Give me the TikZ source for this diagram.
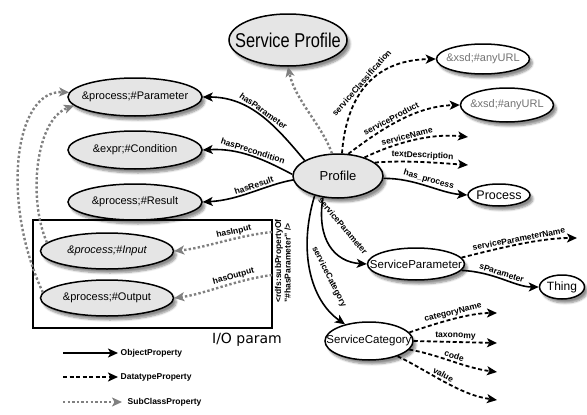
\documentclass[tikz,border=0pt]{standalone}
\usepackage{fontspec}
\setmainfont{Liberation Sans}
\newfontfamily\iofont{DejaVu Sans}
\usetikzlibrary{arrows.meta, shadows.blur, shapes.geometric}

\newcommand{\zbox}[1]{\makebox[0pt]{#1}}

\tikzset{
    tipB/.style={-{Stealth[length=10pt,width=9pt,inset=2.5pt]}},
    objP/.style={draw=black, line width=1.6pt, tipB},
    dataP/.style={draw=black, line width=1.8pt, dash pattern=on 4pt off 2.5pt, tipB},
    subP/.style={draw=black!50, line width=2.4pt, dash pattern=on 2.4pt off 2.2pt, tipB},
    nodeG/.style={ellipse, draw, line width=1.5pt, fill=black!10, inner sep=0pt,
        blur shadow={shadow xshift=3pt, shadow yshift=-4pt, shadow blur steps=6, shadow opacity=45},
        font=\fontsize{11}{13}\selectfont},
    nodeW/.style={nodeG, fill=white},
    elab/.style={font=\fontsize{8.5}{9.5}\selectfont\bfseries, inner sep=1.5pt}
}

\begin{document}
\begin{tikzpicture}[x=1pt, y=-1pt]
    \useasboundingbox (0,0) rectangle (587,415);
    % classes
    \node[nodeG, minimum width=118pt, minimum height=52pt] (sprof) at (288,40)
        {\zbox{\fontsize{20}{22}\selectfont\scalebox{.82}[1]{Service Profile}}};
    \node[nodeG, minimum width=134pt, minimum height=38pt] (param) at (135,97) {\zbox{\&process;\#Parameter}};
    \node[nodeG, minimum width=134pt, minimum height=38pt] (cond) at (135,150) {\zbox{\&expr;\#Condition}};
    \node[nodeG, minimum width=134pt, minimum height=36pt] (res) at (135,202) {\zbox{\&process;\#Result}};
    \node[nodeG, minimum width=133pt, minimum height=36pt] (inp) at (107,251) {\zbox{\itshape\&process;\#Input}};
    \node[nodeG, minimum width=133pt, minimum height=36pt] (outp) at (107,298) {\zbox{\&process;\#Output}};
    \node[nodeG, minimum width=90pt, minimum height=44pt, font=\fontsize{13}{15}\selectfont] (prof) at (338,176) {\zbox{Profile}};
    \node[nodeW, minimum width=93pt, minimum height=30pt, text=black!55] (url1) at (483,59) {\zbox{\&xsd;\#anyURL}};
    \node[nodeW, minimum width=93pt, minimum height=34pt, text=black!55] (url2) at (507,105) {\zbox{\&xsd;\#anyURL}};
    \node[nodeW, minimum width=62pt, minimum height=22pt, font=\fontsize{12.5}{14}\selectfont] (proc) at (499,195) {\zbox{Process}};
    \node[nodeW, minimum width=97pt, minimum height=32pt, font=\fontsize{11.5}{13}\selectfont] (sparam) at (416,264) {\zbox{ServiceParameter}};
    \node[nodeW, minimum width=45pt, minimum height=24pt, font=\fontsize{12}{14}\selectfont] (thing) at (562,287) {\zbox{Thing}};
    \node[nodeW, minimum width=88pt, minimum height=38pt, font=\fontsize{11.5}{13}\selectfont] (scat) at (369,341) {\zbox{ServiceCategory}};

    % I/O box
    \draw[line width=1.8pt] (33,220) rectangle (272,328);
    \coordinate (ioIn) at (272,232);
    \coordinate (ioOut) at (272,275);
    \node[font=\iofont\fontsize{14}{16}\selectfont] (iolab) at (247,340) {I/O param};
    \node[rotate=90, align=left, inner sep=0pt, font=\fontsize{8.5}{9.5}\selectfont\bfseries] (subprop) at (283,261)
        {<rdfs:subPropertyOf\\"\#hasParameter" />};

    % free ends
    \coordinate (snEnd) at (468,137);
    \coordinate (tdEnd) at (468,165);
    \coordinate (spnEnd) at (577,238);
    \coordinate (cnEnd) at (497,313);
    \coordinate (txEnd) at (497,343);
    \coordinate (cdEnd) at (497,372);
    \coordinate (vlEnd) at (497,400);

    % object properties
    \draw[objP] (prof.155) .. controls (275,125) and (250,97) .. (param.east)
        node[elab, pos=.5, sloped, above] {hasParameter};
    \draw[objP] (prof.178) .. controls (265,160) and (240,148) .. (cond.east)
        node[elab, pos=.5, sloped, above] {hasPrecondition};
    \draw[objP] (prof.185) .. controls (265,185) and (240,200) .. (res.east)
        node[elab, pos=.45, sloped, above] {hasResult};
    \draw[objP] (prof.-3) .. controls (415,178) and (440,193) .. (proc.west)
        node[elab, pos=.5, sloped, above] {has\_process};
    \draw[objP] (prof.-125) .. controls (316,240) and (335,262) .. (sparam.west);
    \node[elab, rotate=-50] (lSParam) at (343,226) {serviceParameter};
    \draw[objP] (prof.-140) .. controls (298,250) and (310,300) .. (scat);
    \node[elab, rotate=-63] (lSCat) at (329,277) {serviceCategory};
    \draw[objP] (sparam.-8) .. controls (495,272) and (515,287) .. (thing.west)
        node[elab, pos=.45, sloped, above] {sParameter};

    % datatype properties
    \draw[dataP] (prof.80) .. controls (346,100) and (370,60) .. (url1.west)
        node[elab, pos=.5, sloped, above] {serviceClassification};
    \draw[dataP] (prof.65) .. controls (380,130) and (415,106) .. (url2.west)
        node[elab, pos=.45, sloped, above] {serviceProduct};
    \draw[dataP] (prof.35) .. controls (395,143) and (430,133) .. (snEnd)
        node[elab, pos=.45, sloped, above] {serviceName};
    \draw[dataP] (prof.20) .. controls (405,160) and (440,163) .. (tdEnd)
        node[elab, pos=.5, sloped, above] {textDescription};
    \draw[dataP] (sparam.8) .. controls (500,248) and (540,238) .. (spnEnd)
        node[elab, pos=.5, sloped, above] {serviceParameterName};
    \draw[dataP] (scat.12) .. controls (440,322) and (470,313) .. (cnEnd)
        node[elab, pos=.5, sloped, above] {categoryName};
    \draw[dataP] (scat.east) -- (txEnd)
        node[elab, pos=.5, sloped, above] {taxonomy};
    \draw[dataP] (scat.-12) .. controls (440,355) and (465,368) .. (cdEnd)
        node[elab, pos=.5, sloped, above] {code};
    \draw[dataP] (scat.-28) .. controls (430,372) and (460,395) .. (vlEnd)
        node[elab, pos=.45, sloped, above] {value};

    % subclass / subproperty
    \draw[subP] (prof.105) .. controls (322,125) and (295,100) .. (sprof.south);
    \draw[subP] (outp.175) .. controls (0,200) and (15,90) .. (param.176);
    \draw[subP] (inp.172) .. controls (28,200) and (35,120) .. (param.188);
    \draw[subP] (ioIn) .. controls (235,236) and (205,248) .. (inp.east)
        node[elab, pos=.35, sloped, above] {hasInput};
    \draw[subP] (ioOut) .. controls (235,280) and (205,294) .. (outp.east)
        node[elab, pos=.35, sloped, above] {hasOutput};

    % legend
    \coordinate (l1a) at (63,353);  \coordinate (l1b) at (118,353);
    \coordinate (l2a) at (63,377);  \coordinate (l2b) at (118,377);
    \coordinate (l3a) at (63,402);  \coordinate (l3b) at (122,402);
    \draw[objP] (l1a) -- (l1b);
    \draw[dataP] (l2a) -- (l2b);
    \draw[subP] (l3a) -- (l3b);
    \node[elab, anchor=west] (lg1) at (119,353) {ObjectProperty};
    \node[elab, anchor=west] (lg2) at (119,377) {DatatypeProperty};
    \node[elab, anchor=west] (lg3) at (126,402) {SubClassProperty};
\end{tikzpicture}
\end{document}
